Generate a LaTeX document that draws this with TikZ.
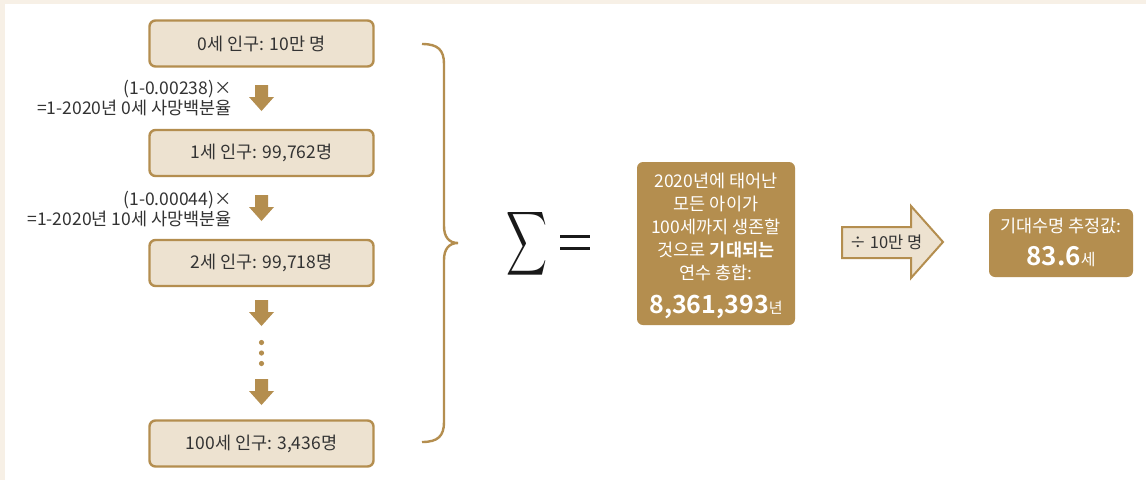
\documentclass[tikz,border=0pt]{standalone}
\usepackage{fontspec}
\setmainfont{Noto Sans CJK KR}[BoldFont={Noto Sans CJK KR Bold}]
\usetikzlibrary{calc}
\definecolor{gold}{HTML}{B48E4F}
\definecolor{lightfill}{HTML}{EDE2D0}
\definecolor{cream}{HTML}{F7F0E6}
\definecolor{ink}{HTML}{333333}
\tikzset{
  popbox/.style={draw=gold, line width=2.4pt, fill=lightfill, rounded corners=6pt,
    minimum width=224pt, minimum height=46pt, inner sep=0pt, text=ink,
    font=\fontsize{17.5}{20}\selectfont},
  goldbox/.style={fill=gold, rounded corners=6pt, text=white, inner sep=0pt, align=center},
  lbl/.style={text=ink, align=right, anchor=east, font=\fontsize{17.5}{20}\selectfont, inner sep=0pt},
  downarrow/.style={fill=gold},
  dotstyle/.style={fill=gold}
}
\newcommand{\downblock}[1]{%
  \fill[downarrow] ($(#1)+(-6.5,0)$) -- ++(13,0) -- ++(0,12) -- ++(6,0) -- ($(#1)+(0,26)$)
   -- ($(#1)+(-12.5,12)$) -- ++(6,0) -- cycle;}
\begin{document}
\begin{tikzpicture}[x=1pt,y=-1pt]
\useasboundingbox (0,0) rectangle (1146,480);
\fill[cream] (0,0) rectangle (1146,480);
\fill[white] (5,4) rectangle (1146,480);

% population boxes
\node[popbox] (b0) at (261.5,43.5) {0세 인구: 10만 명};
\node[popbox] (b1) at (261.5,153) {1세 인구: 99,762명};
\node[popbox] (b2) at (261.5,263) {2세 인구: 99,718명};
\node[popbox] (b100) at (261.5,443.5) {100세 인구: 3,436명};

% down block arrows
\coordinate (a1) at (261.5,85);
\coordinate (a2) at (261.5,195);
\coordinate (a3) at (261.5,300);
\coordinate (a4) at (261.5,379);
\downblock{a1}
\downblock{a2}
\downblock{a3}
\downblock{a4}

% dots
\fill[dotstyle] (261.5,342.5) circle (2.6);
\fill[dotstyle] (261.5,353) circle (2.6);
\fill[dotstyle] (261.5,363.5) circle (2.6);

% factor labels
\node[lbl] (l1) at (232,98) {(1-0.00238)×\\=1-2020년 0세 사망백분율};
\node[lbl] (l2) at (232,209) {(1-0.00044)×\\=1-2020년 10세 사망백분율};

% brace
\draw[gold, line width=2.4pt] (422,44) .. controls (438,44) and (444,50) .. (444,64)
  -- (444,226) .. controls (444,237) and (449,243) .. (458,243)
  .. controls (449,243) and (444,249) .. (444,260)
  -- (444,422) .. controls (444,436) and (438,442) .. (422,442);

% sigma and equals
\node[text=black!90, inner sep=0pt] (sig) at (527,244) {\resizebox{41pt}{47pt}{$\displaystyle\sum$}};
\node[inner sep=0pt, minimum width=30pt, minimum height=18pt,
  path picture={\fill[black!90] ([yshift=-1.5pt]path picture bounding box.north west) rectangle ++(30pt,-3pt);
                \fill[black!90] ([yshift=1.5pt]path picture bounding box.south west) rectangle ++(30pt,3pt);}]
  (eq) at (575,242.5) {};

% total box
\node[goldbox, minimum width=158pt, minimum height=163pt] (tot) at (716,243.5) {};
\node[text=white, align=center, inner sep=0pt, font=\fontsize{17.5}{23}\selectfont] (tottxt) at (716,227)
  {2020년에 태어난\\모든 아이가\\100세까지 생존할\\것으로 \textbf{기대되는}\\연수 총합:};
\node[text=white, inner sep=0pt, anchor=base] (totnum) at (716,313)
  {\fontsize{25}{25}\selectfont\bfseries 8,361,393\fontsize{15}{15}\mdseries 년};

% right arrow
\draw[gold, line width=2pt, fill=lightfill, line join=miter]
  (842,227) -- (911,227) -- (911,206) -- (943,242) -- (911,278) -- (911,258) -- (842,258) -- cycle;
\node[text=ink, inner sep=0pt, font=\fontsize{16.5}{18}\selectfont] (div) at (886,242.5) {÷ 10만 명};

% result box
\node[goldbox, minimum width=144pt, minimum height=68pt] (res) at (1061,243) {};
\node[text=white, inner sep=0pt, font=\fontsize{17.5}{18}\selectfont] (restxt) at (1061,226) {기대수명 추정값:};
\node[text=white, inner sep=0pt, anchor=base] (resnum) at (1061,265)
  {\fontsize{26}{26}\selectfont\bfseries 83.6\fontsize{16}{16}\mdseries 세};
\end{tikzpicture}
\end{document}
